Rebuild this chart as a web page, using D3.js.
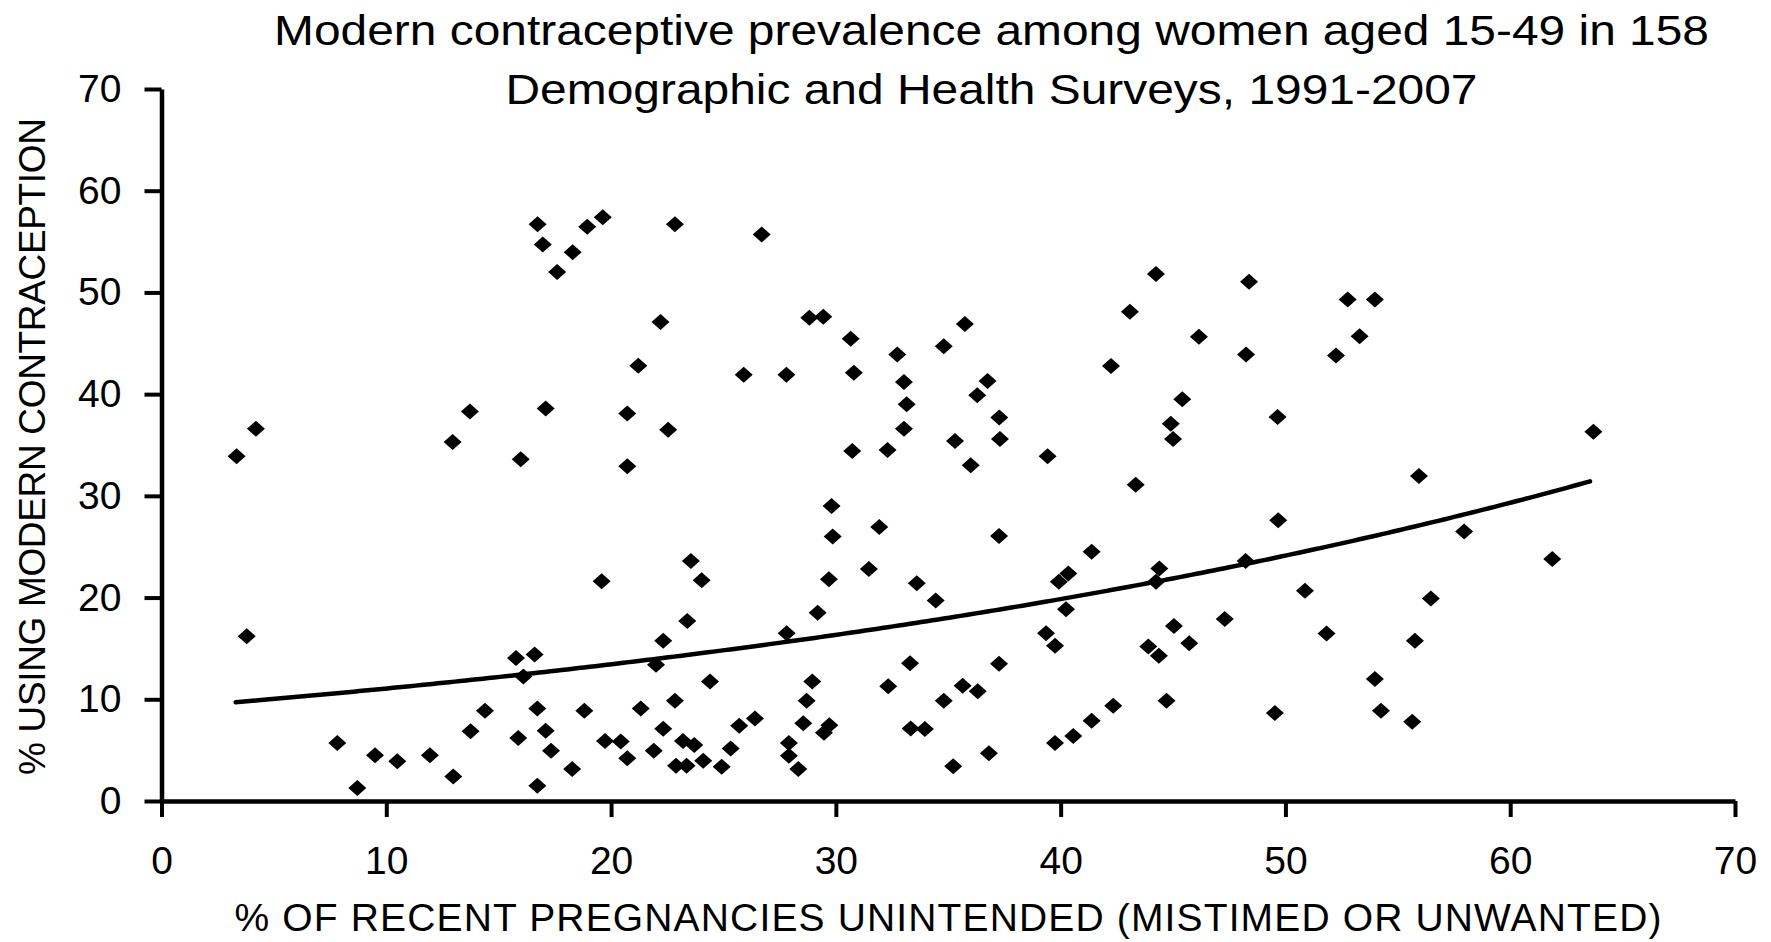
<!DOCTYPE html>
<html>
<head>
<meta charset="utf-8">
<script src="https://cdn.jsdelivr.net/npm/d3@7"></script>
<style>
  html, body { margin: 0; padding: 0; background: #ffffff; }
  svg { display: block; }
  text { font-family: "Liberation Sans", Arial, Helvetica, sans-serif; fill: #000; }
</style>
</head>
<body>
<svg id="chart" width="1771" height="942"></svg>
<script>
// ---- Data ----
const titleLines = [
  "Modern contraceptive prevalence among women aged 15-49 in 158",
  "Demographic and Health Surveys, 1991-2007"
];
const xAxisTitle = "% OF RECENT PREGNANCIES UNINTENDED (MISTIMED OR UNWANTED)";
const yAxisTitle = "% USING MODERN CONTRACEPTION";
const xTickValues = [0, 10, 20, 30, 40, 50, 60, 70];
const yTickValues = [0, 10, 20, 30, 40, 50, 60, 70];

// % of recent pregnancies unintended
const unintended = [
  3.34, 4.2, 3.79, 7.82, 8.71, 9.5, 10.49, 11.94, 12.98, 12.95,
  13.72, 13.75, 14.39, 15.98, 15.77, 16.1, 15.87, 16.6, 16.72, 16.72,
  17.09, 17.33, 17.09, 16.73, 16.96, 17.6,
  18.29, 18.94, 19.63, 22.84, 26.7, 22.2, 28.82, 29.44, 30.66, 32.73,
  34.8, 21.21, 25.9, 27.8, 30.8, 33.03, 33.15, 33.03, 20.72, 22.54,
  20.72, 30.73, 32.3, 29.81, 31.93, 29.86, 31.47, 29.69, 33.6, 34.44,
  19.58, 23.55, 24.03, 23.39, 22.32, 22.0, 27.81, 29.19, 24.4, 28.95,
  28.7, 22.84, 21.32, 18.81, 22.32, 25.7, 26.4, 28.55, 29.71, 29.47,
  19.73, 20.43, 20.72, 21.9, 23.2, 23.7, 22.89, 23.36, 24.1, 24.92,
  25.32, 27.91, 27.91, 28.33, 18.27, 33.3, 32.33, 34.8, 33.33, 33.96,
  35.22,
  35.3, 35.74, 44.24, 43.08, 48.38, 52.77, 53.98, 53.3, 52.25, 46.15,
  48.25, 42.24, 36.75, 36.29, 37.27, 37.3, 45.41, 44.9, 45.0, 49.65,
  36.0, 39.42, 43.34, 37.26, 49.68, 41.38, 40.34, 39.92, 44.39, 44.24,
  48.23, 50.87, 40.24, 39.35, 39.75, 45.04, 47.3, 45.72, 43.9, 44.37,
  51.83, 37.26, 35.64, 36.31, 42.34, 41.38, 40.56, 39.75, 44.71, 49.53,
  36.81,
  63.7, 55.94, 57.95, 61.87, 56.47, 55.76, 53.98, 54.25, 55.64
];
// % using modern contraception
const modernUse = [
  33.9, 36.6, 16.2, 5.7, 1.28, 4.5, 3.9, 4.5, 2.4, 35.3,
  38.3, 6.85, 8.87, 33.6, 14.05, 12.25, 6.2, 14.4, 9.1, 1.5,
  6.9, 4.95, 38.6, 56.7, 54.7, 52.0,
  53.96, 56.45, 57.4, 56.7, 55.7, 47.1, 47.5, 47.6, 45.45, 43.9,
  44.7, 42.8, 41.9, 41.9, 42.1, 41.2, 39.0, 36.6, 38.1, 36.5,
  32.9, 34.4, 34.5, 29.0, 26.95, 26.0, 22.8, 21.8, 21.4, 19.7,
  21.6, 23.6, 21.7, 17.7, 15.75, 13.4, 16.5, 18.5, 11.75, 11.75,
  9.85, 9.85, 9.1, 8.87, 7.1, 7.4, 8.1, 7.65, 7.45, 6.7,
  5.9, 5.85, 4.2, 4.95, 5.9, 5.5, 3.47, 3.47, 3.96, 3.37,
  5.17, 5.7, 4.45, 3.14, 3.14, 13.55, 11.27, 9.85, 7.14, 7.07,
  3.41,
  35.4, 46.9, 51.8, 48.1, 51.05, 49.3, 49.3, 45.7, 43.8, 45.65,
  43.9, 42.76, 41.3, 39.9, 37.7, 35.6, 39.5, 37.1, 35.6, 37.75,
  33.0, 33.9, 31.1, 26.06, 27.6, 24.5, 22.37, 21.55, 22.86, 21.55,
  23.6, 20.66, 18.86, 16.5, 15.26, 17.2, 17.9, 15.5, 15.2, 14.27,
  16.47, 13.5, 11.33, 10.78, 9.37, 7.9, 6.4, 5.7, 9.85, 8.64,
  4.7,
  36.3, 31.96, 26.5, 23.8, 19.9, 15.75, 12.0, 8.87, 7.8
];
// Exponential trendline y = a * exp(b * x), parameters
const trendA = 9.1;
const trendB = 0.0195;
const trendXRange = [3.3, 63.7];

// ---- Drawing ----
const svg = d3.select("#chart");
const W = 1771, H = 942;
svg.append("rect").attr("width", W).attr("height", H).attr("fill", "#fff");

const x = d3.scaleLinear().domain([0, 70]).range([161.5, 1735]);
const y = d3.scaleLinear().domain([0, 70]).range([801, 89]);

// Title
svg.append("text")
  .attr("x", 991.5).attr("y", 45)
  .attr("text-anchor", "middle")
  .attr("font-size", 43)
  .attr("textLength", 1435)
  .attr("lengthAdjust", "spacingAndGlyphs")
  .text(titleLines[0]);
svg.append("text")
  .attr("x", 991.5).attr("y", 104)
  .attr("text-anchor", "middle")
  .attr("font-size", 43)
  .attr("textLength", 972)
  .attr("lengthAdjust", "spacingAndGlyphs")
  .text(titleLines[1]);

// Axes
const xAxis = d3.axisBottom(x).tickValues(xTickValues).tickSize(16).tickSizeOuter(0).tickPadding(29).tickFormat(d3.format("d"));
const yAxis = d3.axisLeft(y).tickValues(yTickValues).tickSize(17).tickSizeOuter(0).tickPadding(23).tickFormat(d3.format("d"));

const gx = svg.append("g").attr("transform", `translate(0,${y(0)})`).call(xAxis);
const gy = svg.append("g").attr("transform", `translate(${x(0)},0)`).call(yAxis);

[gx, gy].forEach(g => {
  g.select(".domain").attr("stroke", "#000").attr("stroke-width", 4.5);
  g.selectAll(".tick line").attr("stroke", "#000").attr("stroke-width", 4);
  g.selectAll(".tick text")
    .attr("font-family", "\"Liberation Sans\", Arial, sans-serif")
    .attr("font-size", 39)
    .attr("fill", "#000");
});

// Axis titles
svg.append("text")
  .attr("x", 948).attr("y", 931)
  .attr("text-anchor", "middle")
  .attr("font-size", 39)
  .attr("textLength", 1427)
  .attr("lengthAdjust", "spacing")
  .text(xAxisTitle);

svg.append("text")
  .attr("transform", `translate(45,446.5) rotate(-90)`)
  .attr("text-anchor", "middle")
  .attr("font-size", 37)
  .attr("textLength", 657)
  .attr("lengthAdjust", "spacing")
  .text(yAxisTitle);

// Points (diamonds)
const points = unintended.map((u, i) => ({ u, m: modernUse[i] }));
const hw = 9, hh = 8;
svg.append("g").selectAll("path.pt")
  .data(points)
  .join("path")
  .attr("class", "pt")
  .attr("d", d => {
    const cx = x(d.u), cy = y(d.m);
    return `M${cx},${cy - hh}L${cx + hw},${cy}L${cx},${cy + hh}L${cx - hw},${cy}Z`;
  })
  .attr("fill", "#000");

// Trendline
const trendXs = d3.range(trendXRange[0], trendXRange[1] + 0.001, 0.25);
const line = d3.line().x(d => x(d)).y(d => y(trendA * Math.exp(trendB * d)));
svg.append("path")
  .datum(trendXs)
  .attr("d", line)
  .attr("fill", "none")
  .attr("stroke", "#000")
  .attr("stroke-width", 4.5)
  .attr("stroke-linecap", "round");
</script>
</body>
</html>
